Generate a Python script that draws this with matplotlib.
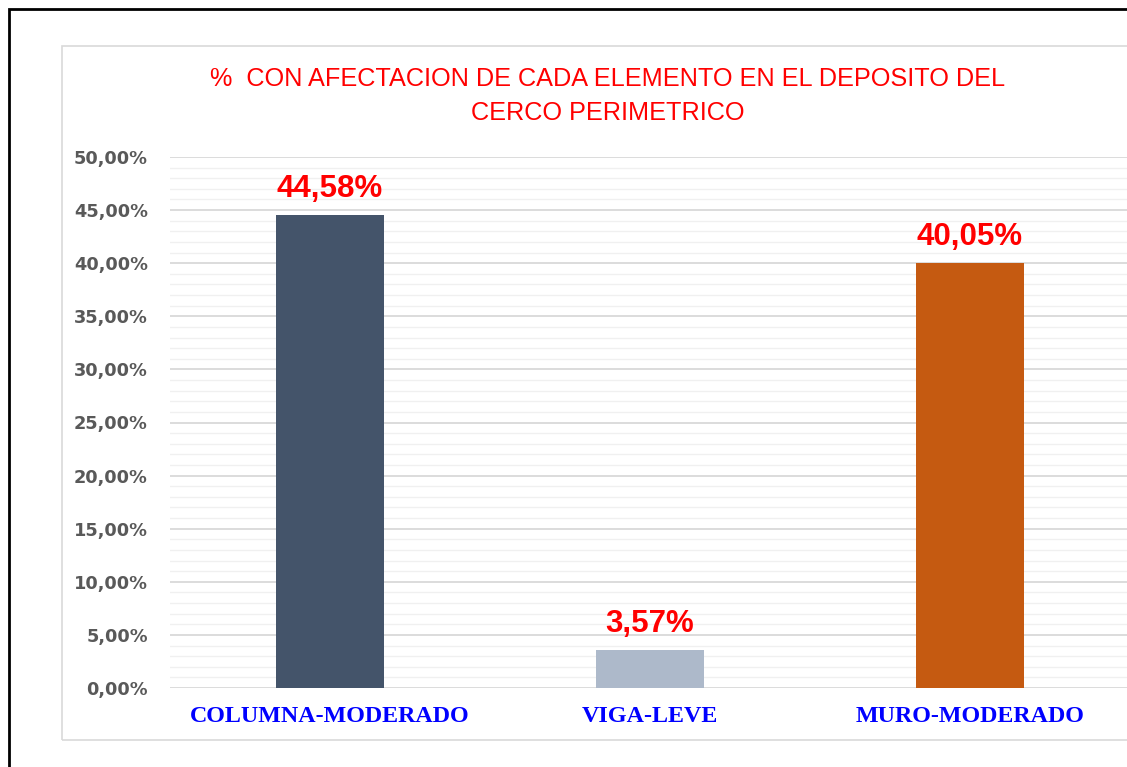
import matplotlib.pyplot as plt
from matplotlib.patches import Rectangle
import numpy as np

# ===== data =====
categorias = ["COLUMNA-MODERADO", "VIGA-LEVE", "MURO-MODERADO"]
valores = [44.58, 3.57, 40.05]
etiquetas = ["44,58%", "3,57%", "40,05%"]
colores = ["#44546A", "#ADB9CA", "#C55A11"]
titulo = "%  CON AFECTACION DE CADA ELEMENTO EN EL DEPOSITO DEL\nCERCO PERIMETRICO"

W, H = 1127, 767
fig = plt.figure(figsize=(W / 100, H / 100), dpi=100)

# marco exterior negro y borde gris del area del grafico
fig.patches.append(Rectangle((9 / W, -0.05), 1.2, (H - 9) / H + 0.05,
                             transform=fig.transFigure, fill=False,
                             edgecolor="black", linewidth=2))
fig.patches.append(Rectangle((62 / W, (H - 740) / H), 1.2, (740 - 46) / H,
                             transform=fig.transFigure, fill=False,
                             edgecolor="#D9D9D9", linewidth=1.2))

ax = fig.add_axes([170 / W, (H - 688) / H, 960 / W, (688 - 157) / H])
x = np.arange(len(categorias))
ax.bar(x, valores, width=0.335, color=colores, zorder=3)
ax.set_xlim(-0.5, 2.5)
ax.set_ylim(0, 50)

# rejilla mayor y menor
ax.set_yticks(np.arange(0, 50.1, 5))
ax.set_yticks(np.arange(0, 50.1, 1), minor=True)
ax.yaxis.grid(True, which="major", color="#D9D9D9", linewidth=1.3, zorder=0)
ax.yaxis.grid(True, which="minor", color="#F0F0F0", linewidth=1.0, zorder=0)
ax.set_yticklabels([f"{v:.2f}%".replace(".", ",") for v in np.arange(0, 50.1, 5)],
                   fontsize=12.8, fontweight="bold", color="#595959",
                   family="DejaVu Sans")
ax.tick_params(axis="y", which="both", length=0, pad=16)
ax.tick_params(axis="x", length=0, pad=13)
ax.set_xticks(x)
ax.set_xticklabels(categorias, fontsize=17.3, fontweight="bold", color="#0000FF",
                   family="Liberation Serif")
for s in ax.spines.values():
    s.set_visible(False)

for xi, v, t in zip(x, valores, etiquetas):
    ax.text(xi, v + 1.0, t, ha="center", va="bottom", fontsize=22.5,
            fontweight="bold", color="#FF0000", family="Liberation Sans")

fig.text(608 / W, (H - 96) / H, titulo, ha="center", va="center",
         fontsize=18.2, color="#FF0000", family="Liberation Sans", linespacing=1.55)

fig.savefig("out.png", dpi=100)
